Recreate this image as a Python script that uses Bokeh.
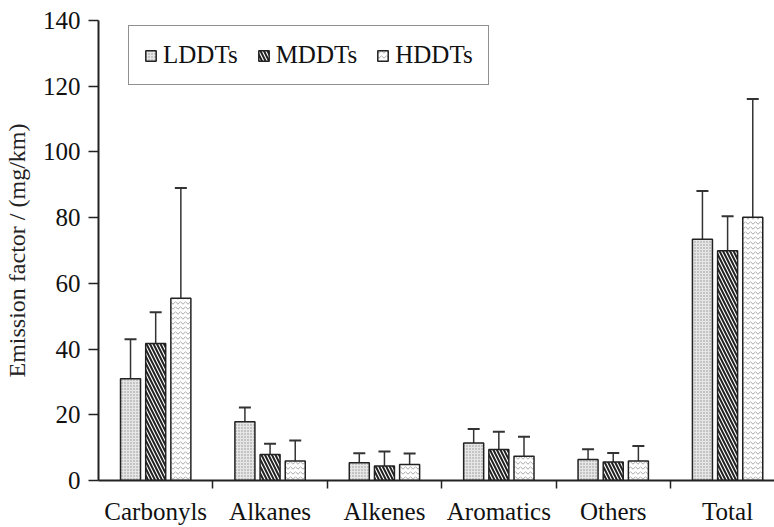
from bokeh.plotting import figure
from bokeh.models import (ColumnDataSource, Range1d, FixedTicker, Whisker, TeeHead,
                          Legend, LegendItem)
from bokeh.embed import file_html
from bokeh.resources import INLINE

categories = ["Carbonyls", "Alkanes", "Alkenes", "Aromatics", "Others", "Total"]
series = ["LDDTs", "MDDTs", "HDDTs"]
lddt = [31.0, 17.9, 5.4, 11.4, 6.4, 73.4]
lddt_sd = [12.0, 4.3, 2.9, 4.3, 3.1, 14.7]
mddt = [41.7, 7.9, 4.4, 9.4, 5.6, 69.9]
mddt_sd = [9.5, 3.3, 4.4, 5.4, 2.8, 10.5]
hddt = [55.5, 5.9, 4.9, 7.4, 5.9, 80.1]
hddt_sd = [33.5, 6.3, 3.3, 5.9, 4.6, 36.0]
y_ticks = [0, 20, 40, 60, 80, 100, 120, 140]

FONT = "Liberation Serif"

p = figure(width=774, height=527, output_backend="svg", toolbar_location=None,
           x_range=Range1d(0, 5.91), y_range=Range1d(0, 140),
           min_border_left=98, min_border_right=0, min_border_top=20, min_border_bottom=46)
p.outline_line_color = None
p.xgrid.visible = False
p.ygrid.visible = False

offsets = [-0.22, 0.0, 0.22]
bw = 0.175
styles = [
    dict(fill_color="#e6e6e6", hatch_pattern="dot", hatch_color="#909090", hatch_scale=3, hatch_weight=1),
    dict(fill_color="white", hatch_pattern="left_diagonal_line", hatch_color="#222222", hatch_scale=7, hatch_weight=2),
    dict(fill_color="white", hatch_pattern="horizontal_wave", hatch_color="#a8a8a8", hatch_scale=5, hatch_weight=1),
]
vals = [lddt, mddt, hddt]
sds = [lddt_sd, mddt_sd, hddt_sd]

renderers = []
for i, (v, sd, st, off) in enumerate(zip(vals, sds, styles, offsets)):
    xs = [k + 0.5 + off for k in range(len(categories))]
    src = ColumnDataSource(dict(x=xs, top=v, upper=[a + b for a, b in zip(v, sd)],
                                lower=[a - b for a, b in zip(v, sd)]))
    r = p.vbar(x="x", top="top", bottom=0, width=bw, source=src,
               line_color="#222222", line_width=1.5, **st)
    renderers.append(r)
    w = Whisker(base="x", upper="upper", lower="lower", source=src,
                line_color="#333333", line_width=1.5,
                upper_head=TeeHead(size=12, line_color="#333333", line_width=2),
                lower_head=TeeHead(size=12, line_color="#333333", line_width=2))
    p.add_layout(w)

legend = Legend(items=[LegendItem(label=s, renderers=[r]) for s, r in zip(series, renderers)],
                orientation="horizontal", location=(30, 395),
                label_text_font=FONT, label_text_font_size="25px", label_text_color="#111111",
                glyph_width=13, glyph_height=13, label_standoff=6, spacing=19,
                padding=15, margin=0,
                border_line_color="#222222", border_line_width=1.5,
                background_fill_alpha=1.0)
p.add_layout(legend)

# x axis
xa = p.xaxis[0]
xa.ticker = FixedTicker(ticks=[k + 0.5 for k in range(len(categories))],
                        minor_ticks=[k for k in range(1, len(categories))])
xa.major_label_overrides = {k + 0.5: c for k, c in enumerate(categories)}
xa.major_tick_out = 0
xa.major_tick_in = 0
xa.minor_tick_out = 8
xa.minor_tick_in = 0
xa.minor_tick_line_color = "#222222"
xa.minor_tick_line_width = 1.5
xa.axis_line_color = "#222222"
xa.axis_line_width = 2
xa.major_label_text_font = FONT
xa.major_label_text_font_size = "25px"
xa.major_label_text_color = "#111111"
xa.major_label_standoff = 9

ya = p.yaxis[0]
ya.ticker = FixedTicker(ticks=y_ticks)
ya.major_tick_out = 10
ya.major_tick_in = 0
ya.minor_tick_out = 0
ya.minor_tick_in = 0
ya.major_tick_line_color = "#222222"
ya.major_tick_line_width = 1.5
ya.axis_line_color = "#222222"
ya.axis_line_width = 2
ya.major_label_text_font = FONT
ya.major_label_text_font_size = "25px"
ya.major_label_text_color = "#111111"
ya.major_label_standoff = 8
ya.axis_label = "Emission factor / (mg/km)"
ya.axis_label_text_font = FONT
ya.axis_label_text_font_size = "24px"
ya.axis_label_text_font_style = "normal"
ya.axis_label_text_color = "#222222"
ya.axis_label_standoff = 10

open("out.html", "w").write(file_html(p, INLINE))
